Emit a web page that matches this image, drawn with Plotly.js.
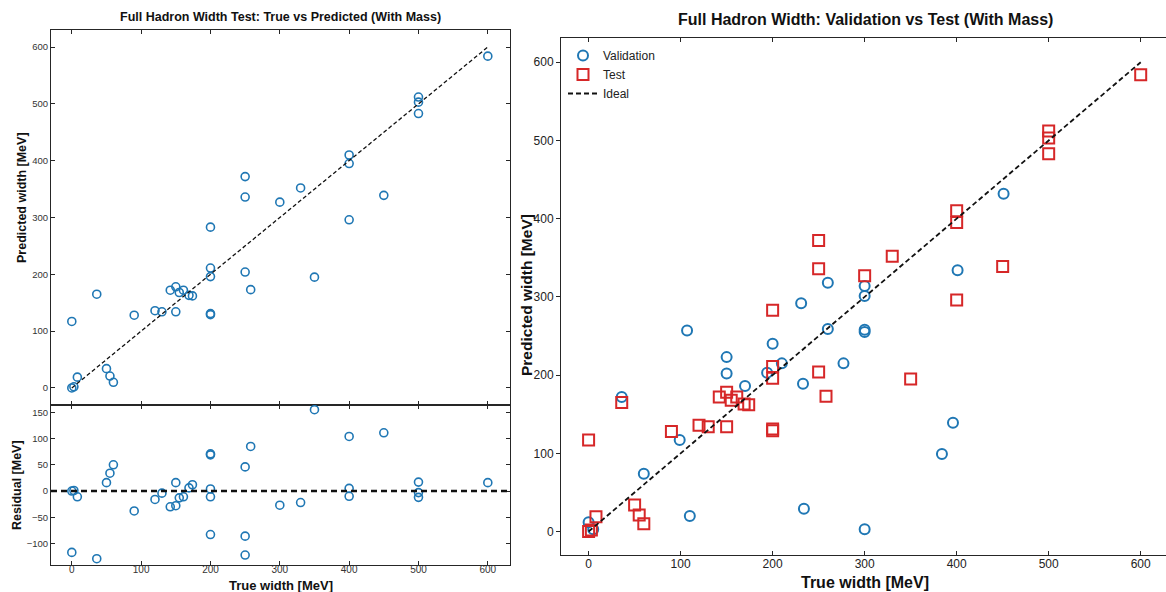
<!DOCTYPE html>
<html>
<head>
<meta charset="utf-8">
<script src="https://cdn.plot.ly/plotly-3.0.1.min.js"></script>
<style>html,body{margin:0;padding:0;background:#fff;} #chart{width:1166px;height:592px;}</style>
</head>
<body>
<div id="chart"></div>
<script>
// ---- Data ----
const testTrue = [0, 3, 8, 0, 36, 50, 55, 60, 90, 120, 130, 142, 150, 150, 155, 161, 169, 174,
                  200, 200, 200, 200, 200, 250, 250, 250, 258, 300, 330, 350, 400, 400, 400, 450,
                  500, 500, 500, 600];
const testPred = [0, 2, 19, 117, 165, 34, 21, 10, 128, 136, 134, 172, 178, 134, 168, 172, 163, 162,
                  283, 211, 196, 131, 129, 372, 336, 204, 173, 327, 352, 195, 410, 395, 296, 339,
                  512, 503, 483, 584];
const valTrue = [0, 5, 36, 60, 99, 107, 110, 150, 150, 170, 194, 200, 210, 231, 233, 234,
                 260, 260, 277, 300, 300, 300, 300, 300, 384, 396, 401, 451];
const valPred = [12, 3, 172, 74, 117, 257, 20, 223, 202, 186, 203, 240, 215, 292, 189, 29,
                 318, 259, 215, 314, 301, 258, 255, 3, 99, 139, 334, 432];
const idealX = [0, 600];
const idealY = [0, 600];
const xTicks = [0, 100, 200, 300, 400, 500, 600];
const yTicks = [0, 100, 200, 300, 400, 500, 600];
const resTicks = [-100, -50, 0, 50, 100, 150];

// residual = true - predicted (as plotted in the reference)
const testRes = testTrue.map((t, i) => t - testPred[i]);

const W = 1166, H = 592;
const px = v => v / W;
const py = v => 1 - v / H;

const BLUE = '#1f77b4', RED = '#d62728', AX = '#262626';
const FONT = 'Liberation Sans, Arial, sans-serif';

const traces = [
  { x: testTrue, y: testPred, xaxis: 'x', yaxis: 'y', type: 'scatter', mode: 'markers',
    marker: { symbol: 'circle-open', size: 8, color: BLUE, line: { width: 1.6, color: BLUE } },
    showlegend: false },
  { x: idealX, y: idealY, xaxis: 'x', yaxis: 'y', type: 'scatter', mode: 'lines',
    line: { color: '#111', width: 1.3, dash: '4px,2.5px' }, showlegend: false },
  { x: testTrue, y: testRes, xaxis: 'x2', yaxis: 'y2', type: 'scatter', mode: 'markers',
    marker: { symbol: 'circle-open', size: 8, color: BLUE, line: { width: 1.6, color: BLUE } },
    showlegend: false },
  { x: valTrue, y: valPred, xaxis: 'x3', yaxis: 'y3', type: 'scatter', mode: 'markers', name: 'Validation',
    marker: { symbol: 'circle-open', size: 10, color: BLUE, line: { width: 2, color: BLUE } } },
  { x: testTrue, y: testPred, xaxis: 'x3', yaxis: 'y3', type: 'scatter', mode: 'markers', name: 'Test',
    marker: { symbol: 'square-open', size: 11, color: RED, line: { width: 2, color: RED } } },
  { x: idealX, y: idealY, xaxis: 'x3', yaxis: 'y3', type: 'scatter', mode: 'lines', name: 'Ideal',
    line: { color: '#111', width: 1.8, dash: '5px,3px' } }
];

const baseAx = {
  showline: true, linecolor: AX, linewidth: 1, showgrid: false, zeroline: false,
  ticks: 'inside', ticklen: 4, tickcolor: AX, tickwidth: 1,
  tickfont: { family: FONT, size: 9.5, color: '#333' }
};

const ann = (text, x, y, size, angle) => ({
  text: '<b>' + text + '</b>', xref: 'paper', yref: 'paper', x: px(x), y: py(y),
  xanchor: 'center', yanchor: 'middle', showarrow: false, textangle: angle || 0,
  font: { family: FONT, size: size, color: '#111' }
});

const layout = {
  width: W, height: H, margin: { l: 0, r: 0, t: 0, b: 0 },
  paper_bgcolor: '#fff', plot_bgcolor: '#fff',
  font: { family: FONT },
  xaxis: Object.assign({}, baseAx, { domain: [px(51), px(510)], range: [-30, 632], anchor: 'y',
    tickvals: xTicks, showticklabels: false, mirror: 'ticks' }),
  yaxis: Object.assign({}, baseAx, { domain: [py(405), py(30)], range: [-30, 630], anchor: 'x',
    tickvals: yTicks, mirror: 'ticks' }),
  xaxis2: Object.assign({}, baseAx, { domain: [px(51), px(510)], range: [-30, 632], anchor: 'y2',
    tickvals: xTicks, mirror: 'ticks', ticklabelstandoff: -5,
    tickfont: { family: FONT, size: 10, color: '#333' } }),
  yaxis2: Object.assign({}, baseAx, { domain: [py(565), py(405)], range: [-141, 164], anchor: 'x2',
    tickvals: resTicks, mirror: 'ticks' }),
  xaxis3: Object.assign({}, baseAx, { domain: [px(561), 1], range: [-30, 627.5], anchor: 'y3',
    tickvals: xTicks, mirror: 'ticks', ticklabelstandoff: -2,
    tickfont: { family: FONT, size: 12, color: '#222' } }),
  yaxis3: Object.assign({}, baseAx, { domain: [py(555), py(38)], range: [-30, 631], anchor: 'x3',
    tickvals: yTicks, ticks: 'outside', tickfont: { family: FONT, size: 12, color: '#222' } }),
  yaxis4: Object.assign({}, baseAx, { domain: [py(555), py(38)], range: [-30, 631], anchor: 'x3',
    overlaying: 'y3', side: 'right', tickvals: yTicks, showticklabels: false, ticks: 'inside',
    showline: false, ticklen: 5 }),
  shapes: [
    { type: 'line', xref: 'x2 domain', yref: 'y2', x0: 0, x1: 1, y0: 0, y1: 0,
      line: { color: '#111', width: 2.4, dash: '6px,4px' } }
  ],
  legend: { x: px(563), y: py(41), xanchor: 'left', yanchor: 'top', bgcolor: 'rgba(0,0,0,0)',
    font: { family: FONT, size: 12, color: '#222' }, itemwidth: 30, tracegroupgap: 0 },
  annotations: [
    ann('Full Hadron Width Test: True vs Predicted (With Mass)', 280.5, 17, 12.5),
    ann('Predicted width [MeV]', 22, 198, 12.5, -90),
    ann('Residual [MeV]', 17, 485, 12.5, -90),
    ann('True width [MeV]', 280.5, 585, 13),
    ann('Full Hadron Width: Validation vs Test (With Mass)', 865, 20, 16),
    ann('Predicted width [MeV]', 527, 295, 15.5, -90),
    ann('True width [MeV]', 865, 582, 16)
  ]
};

Plotly.newPlot('chart', traces, layout, { displayModeBar: false, staticPlot: true });
</script>
</body>
</html>
